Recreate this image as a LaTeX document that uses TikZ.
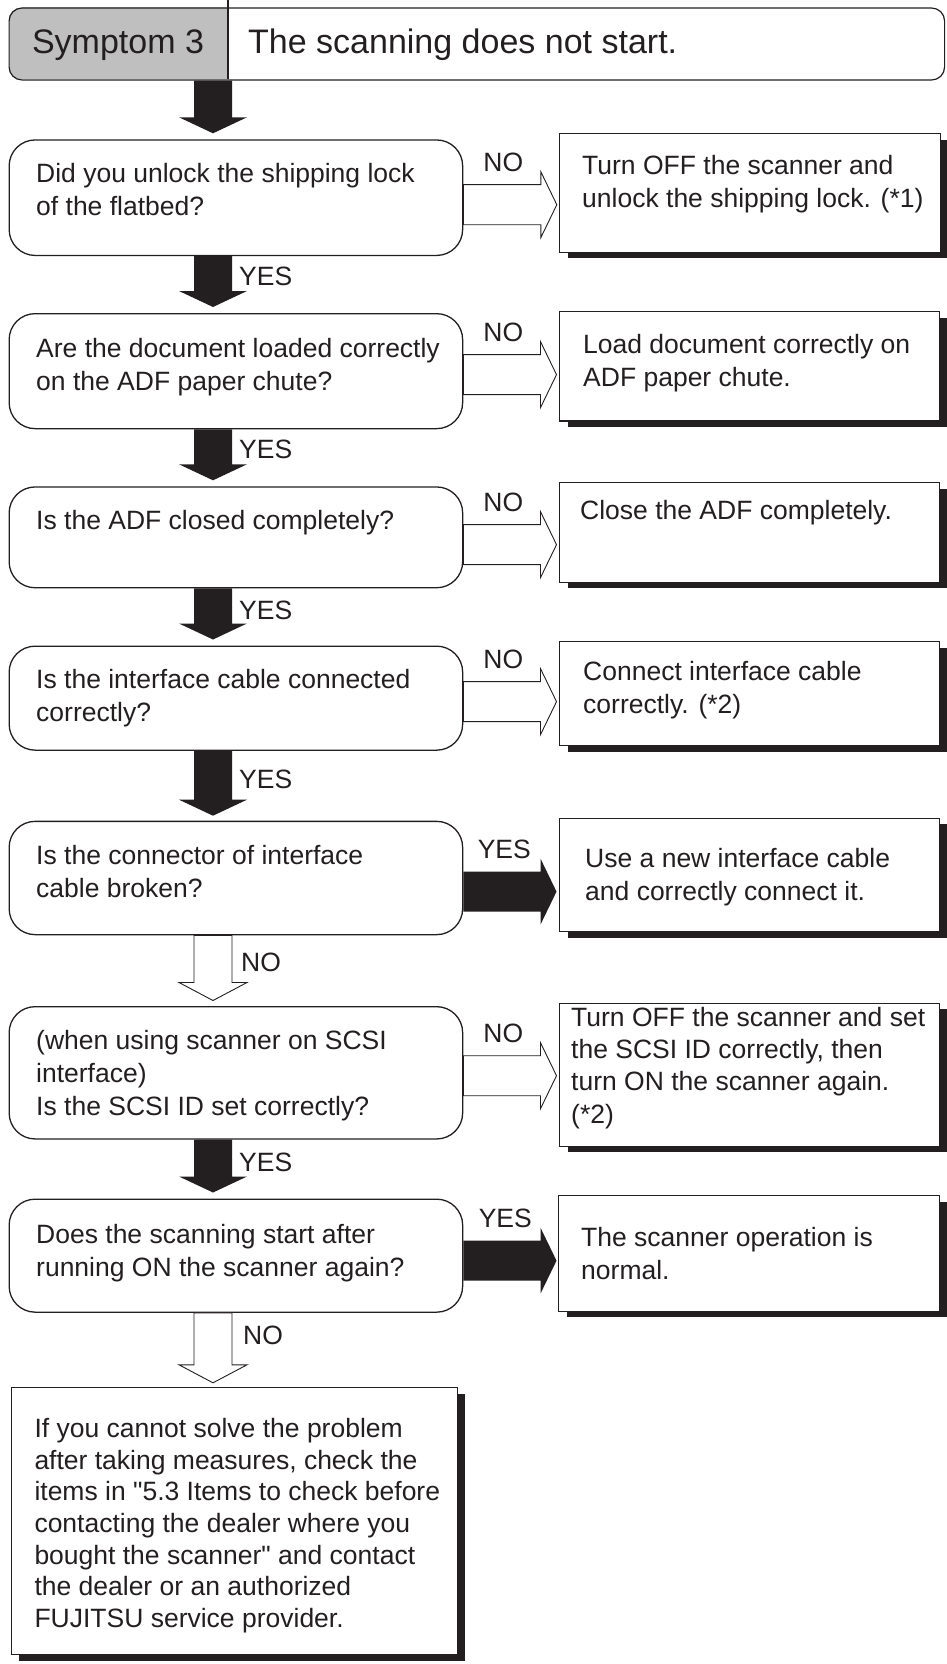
\documentclass[tikz,border=0pt]{standalone}
\usepackage{fontspec}
\setmainfont{Liberation Sans}
\usetikzlibrary{calc,shadows}
\definecolor{ink}{HTML}{231F20}
\definecolor{hdrgray}{HTML}{BFBFBF}
% horizontal block arrow: style, start coordinate, tip coordinate
\newcommand{\blockH}[3]{\draw[#1] let \p1=(#2), \p2=(#3) in
  (\x1,\y1+20pt) -- (\x2-16pt,\y1+20pt) -- (\x2-16pt,\y1+33pt) -- (\x2,\y1)
  -- (\x2-16pt,\y1-33pt) -- (\x2-16pt,\y1-20pt) -- (\x1,\y1-20pt) -- cycle;}
% vertical (downward) block arrow: style, start, tip, head length
\newcommand{\blockV}[4]{\draw[#1] let \p1=(#2), \p2=(#3) in
  (\x1-19pt,\y1) -- (\x1-19pt,\y2+#4) -- (\x1-34pt,\y2+#4) -- (\x1,\y2)
  -- (\x1+34pt,\y2+#4) -- (\x1+19pt,\y2+#4) -- (\x1+19pt,\y1) -- cycle;}
\tikzset{
  hdrbox/.style={draw=ink, line width=1.2pt, rounded corners=13pt, inner sep=0pt, anchor=north west},
  qbox/.style={draw=ink, line width=1.3pt, rounded corners=26pt, inner sep=0pt, anchor=north west},
  rbox/.style={draw=ink, line width=1.1pt, fill=white, inner sep=0pt, anchor=north west,
    drop shadow={shadow xshift=8pt, shadow yshift=-6pt, fill=ink, opacity=1}},
  txt/.style={inner sep=0pt, align=left, anchor=north west, text=ink, font=\fontsize{26.5}{33}\selectfont},
  lbl/.style={inner sep=0pt, text=ink, font=\fontsize{26.5}{33}\selectfont},
  hdrtxt/.style={inner sep=0pt, text=ink, font=\fontsize{34}{40}\selectfont},
  blackarr/.style={fill=ink, draw=none},
  hollowarr/.style={draw=ink, line width=0.9pt, fill=white},
}
\begin{document}
\begin{tikzpicture}[x=1pt,y=-1pt]
\useasboundingbox (0,0) rectangle (946,1664);
% ---------------- header
\begin{scope}
  \clip[rounded corners=13pt] (8.5,7.4) rectangle (944,79.4);
  \fill[hdrgray] (8.5,7.4) rectangle (228,79.4);
\end{scope}
\node[hdrbox, minimum width=935.5pt, minimum height=72pt] (hdr) at (8.5,7.4) {};
\draw[ink, line width=1.2pt] (228,0) -- (228,79.4);
\node[hdrtxt, anchor=base] (sym) at (118,53.5) {Symptom 3};
\node[hdrtxt, anchor=base west] (ttl) at (248,53.5) {The scanning does not start.};
% ---------------- question boxes
\node[qbox, minimum width=453.5pt, minimum height=115.5pt] (q1) at (8.5,139.3) {};
\node[qbox, minimum width=453.5pt, minimum height=115pt]   (q2) at (8.5,313) {};
\node[qbox, minimum width=453.5pt, minimum height=100.8pt] (q3) at (8.5,486.3) {};
\node[qbox, minimum width=453.5pt, minimum height=104pt]   (q4) at (8.5,645.5) {};
\node[qbox, minimum width=453.5pt, minimum height=113.3pt] (q5) at (8.5,820.7) {};
\node[qbox, minimum width=453.5pt, minimum height=132.3pt] (q6) at (8.5,1006) {};
\node[qbox, minimum width=453.5pt, minimum height=113pt]   (q7) at (8.5,1198.5) {};
\node[txt] (q1t) at ($(q1.north west)+(27.5,24)$) {Did you unlock the shipping lock\\of the flatbed?};
\node[txt] (q2t) at ($(q2.north west)+(27.5,25)$) {Are the document loaded correctly\\on the ADF paper chute?};
\node[txt] (q3t) at ($(q3.north west)+(27.5,24)$) {Is the ADF closed completely?};
\node[txt] (q4t) at ($(q4.north west)+(27.5,24)$) {Is the interface cable connected\\correctly?};
\node[txt] (q5t) at ($(q5.north west)+(27.5,24)$) {Is the connector of interface\\cable broken?};
\node[txt] (q6t) at ($(q6.north west)+(27.5,24)$) {(when using scanner on SCSI\\interface)\\Is the SCSI ID set correctly?};
\node[txt] (q7t) at ($(q7.north west)+(27.5,25.5)$) {Does the scanning start after\\running ON the scanner again?};
% ---------------- result boxes
\node[rbox, minimum width=380.7pt, minimum height=118.4pt] (r1) at (559.3,133.3) {};
\node[rbox, minimum width=380pt, minimum height=109.4pt]   (r2) at (559,311) {};
\node[rbox, minimum width=380pt, minimum height=99.7pt]    (r3) at (559,482) {};
\node[rbox, minimum width=380pt, minimum height=104pt]     (r4) at (559,641.3) {};
\node[rbox, minimum width=380pt, minimum height=113.5pt]   (r5) at (559,817.5) {};
\node[rbox, minimum width=380pt, minimum height=143pt]     (r6) at (559,1002.7) {};
\node[rbox, minimum width=381pt, minimum height=115.7pt]   (r7) at (558,1195) {};
\node[rbox, minimum width=446pt, minimum height=267pt]     (r8) at (10.7,1387.3) {};
\node[txt] (r1t) at ($(r1.north west)+(22.7,22)$) {Turn OFF the scanner and\\unlock the shipping lock. (*1)};
\node[txt] (r2t) at ($(r2.north west)+(24,23)$) {Load document correctly on\\ADF paper chute.};
\node[txt] (r3t) at ($(r3.north west)+(21,18)$) {Close the ADF completely.};
\node[txt] (r4t) at ($(r4.north west)+(24,20)$) {Connect interface cable\\correctly. (*2)};
\node[txt] (r5t) at ($(r5.north west)+(26,31)$) {Use a new interface cable\\and correctly connect it.};
\node[txt, font=\fontsize{26.5}{32.3}\selectfont] (r6t) at ($(r6.north west)+(12,4)$) {Turn OFF the scanner and set\\the SCSI ID correctly, then\\turn ON the scanner again.\\(*2)};
\node[txt] (r7t) at ($(r7.north west)+(23,31.7)$) {The scanner operation is\\normal.};
\node[txt, font=\fontsize{26.5}{31.7}\selectfont] (r8t) at ($(r8.north west)+(23.6,30.7)$) {If you cannot solve the problem\\after taking measures, check the\\items in \textquotedbl 5.3 Items to check before\\contacting the dealer where you\\bought the scanner\textquotedbl{} and contact\\the dealer or an authorized\\FUJITSU service provider.};
% ---------------- horizontal arrows
\coordinate (a1s) at ($(q1.east)+(0,7)$);    \coordinate (a1t) at ($(a1s -| r1.west)+(-2.5,0)$);
\coordinate (a2s) at ($(q2.east)+(0,3.5)$);  \coordinate (a2t) at ($(a2s -| r2.west)+(-2.5,0)$);
\coordinate (a3s) at ($(q3.east)+(0,7.3)$);  \coordinate (a3t) at ($(a3s -| r3.west)+(-2.5,0)$);
\coordinate (a4s) at ($(q4.east)+(0,3.5)$);  \coordinate (a4t) at ($(a4s -| r4.west)+(-2.5,0)$);
\coordinate (a5s) at ($(q5.east)+(0,13.6)$); \coordinate (a5t) at ($(a5s -| r5.west)+(-2.5,0)$);
\coordinate (a6s) at ($(q6.east)+(0,2.9)$);  \coordinate (a6t) at ($(a6s -| r6.west)+(-2.5,0)$);
\coordinate (a7s) at ($(q7.east)+(0,5)$);    \coordinate (a7t) at ($(a7s -| r7.west)+(-1.5,0)$);
\blockH{hollowarr}{a1s}{a1t}
\blockH{hollowarr}{a2s}{a2t}
\blockH{hollowarr}{a3s}{a3t}
\blockH{hollowarr}{a4s}{a4t}
\blockH{blackarr}{a5s}{a5t}
\blockH{hollowarr}{a6s}{a6t}
\blockH{blackarr}{a7s}{a7t}
\node[lbl, anchor=base] (l1) at ($(a1s)+(40,-33)$) {NO};
\node[lbl, anchor=base] (l2) at ($(a2s)+(40,-33)$) {NO};
\node[lbl, anchor=base] (l3) at ($(a3s)+(40,-33)$) {NO};
\node[lbl, anchor=base] (l4) at ($(a4s)+(40,-33)$) {NO};
\node[lbl, anchor=base] (l5) at ($(a5s)+(41,-33)$) {YES};
\node[lbl, anchor=base] (l6) at ($(a6s)+(40,-33)$) {NO};
\node[lbl, anchor=base] (l7) at ($(a7s)+(42,-33)$) {YES};
% ---------------- vertical arrows
\coordinate (d0s) at ($(hdr.south west)+(204.5,0)$); \coordinate (d0t) at ($(q1.north west)+(204.5,-6)$);
\coordinate (d1s) at ($(q1.south west)+(204.5,0)$);  \coordinate (d1t) at ($(q2.north west)+(204.5,-6)$);
\coordinate (d2s) at ($(q2.south west)+(204.5,0)$);  \coordinate (d2t) at ($(q3.north west)+(204.5,-6)$);
\coordinate (d3s) at ($(q3.south west)+(204.5,0)$);  \coordinate (d3t) at ($(q4.north west)+(204.5,-6)$);
\coordinate (d4s) at ($(q4.south west)+(204.5,0)$);  \coordinate (d4t) at ($(q5.north west)+(204.5,-5)$);
\coordinate (d5s) at ($(q5.south west)+(204.5,0)$);  \coordinate (d5t) at ($(q6.north west)+(204.5,-5.5)$);
\coordinate (d6s) at ($(q6.south west)+(204.5,0)$);  \coordinate (d6t) at ($(q7.north west)+(204.5,-6)$);
\coordinate (d7s) at ($(q7.south west)+(204.5,0)$);  \coordinate (d7t) at ($(r8.north west)+(202.3,-4.5)$);
\blockV{blackarr}{d0s}{d0t}{16pt}
\blockV{blackarr}{d1s}{d1t}{16pt}
\blockV{blackarr}{d2s}{d2t}{16pt}
\blockV{blackarr}{d3s}{d3t}{16pt}
\blockV{blackarr}{d4s}{d4t}{16pt}
\blockV{hollowarr}{d5s}{d5t}{18pt}
\blockV{blackarr}{d6s}{d6t}{16pt}
\blockV{hollowarr}{d7s}{d7t}{18pt}
\node[lbl, anchor=base west] (m1) at ($(d1s)+(26,29.7)$) {YES};
\node[lbl, anchor=base west] (m2) at ($(d2s)+(26,29.5)$) {YES};
\node[lbl, anchor=base west] (m3) at ($(d3s)+(26,31.4)$) {YES};
\node[lbl, anchor=base west] (m4) at ($(d4s)+(26,38)$) {YES};
\node[lbl, anchor=base west] (m5) at ($(d5s)+(28,36)$) {NO};
\node[lbl, anchor=base west] (m6) at ($(d6s)+(26,31.7)$) {YES};
\node[lbl, anchor=base west] (m7) at ($(d7s)+(30,31.3)$) {NO};
\end{tikzpicture}
\end{document}
